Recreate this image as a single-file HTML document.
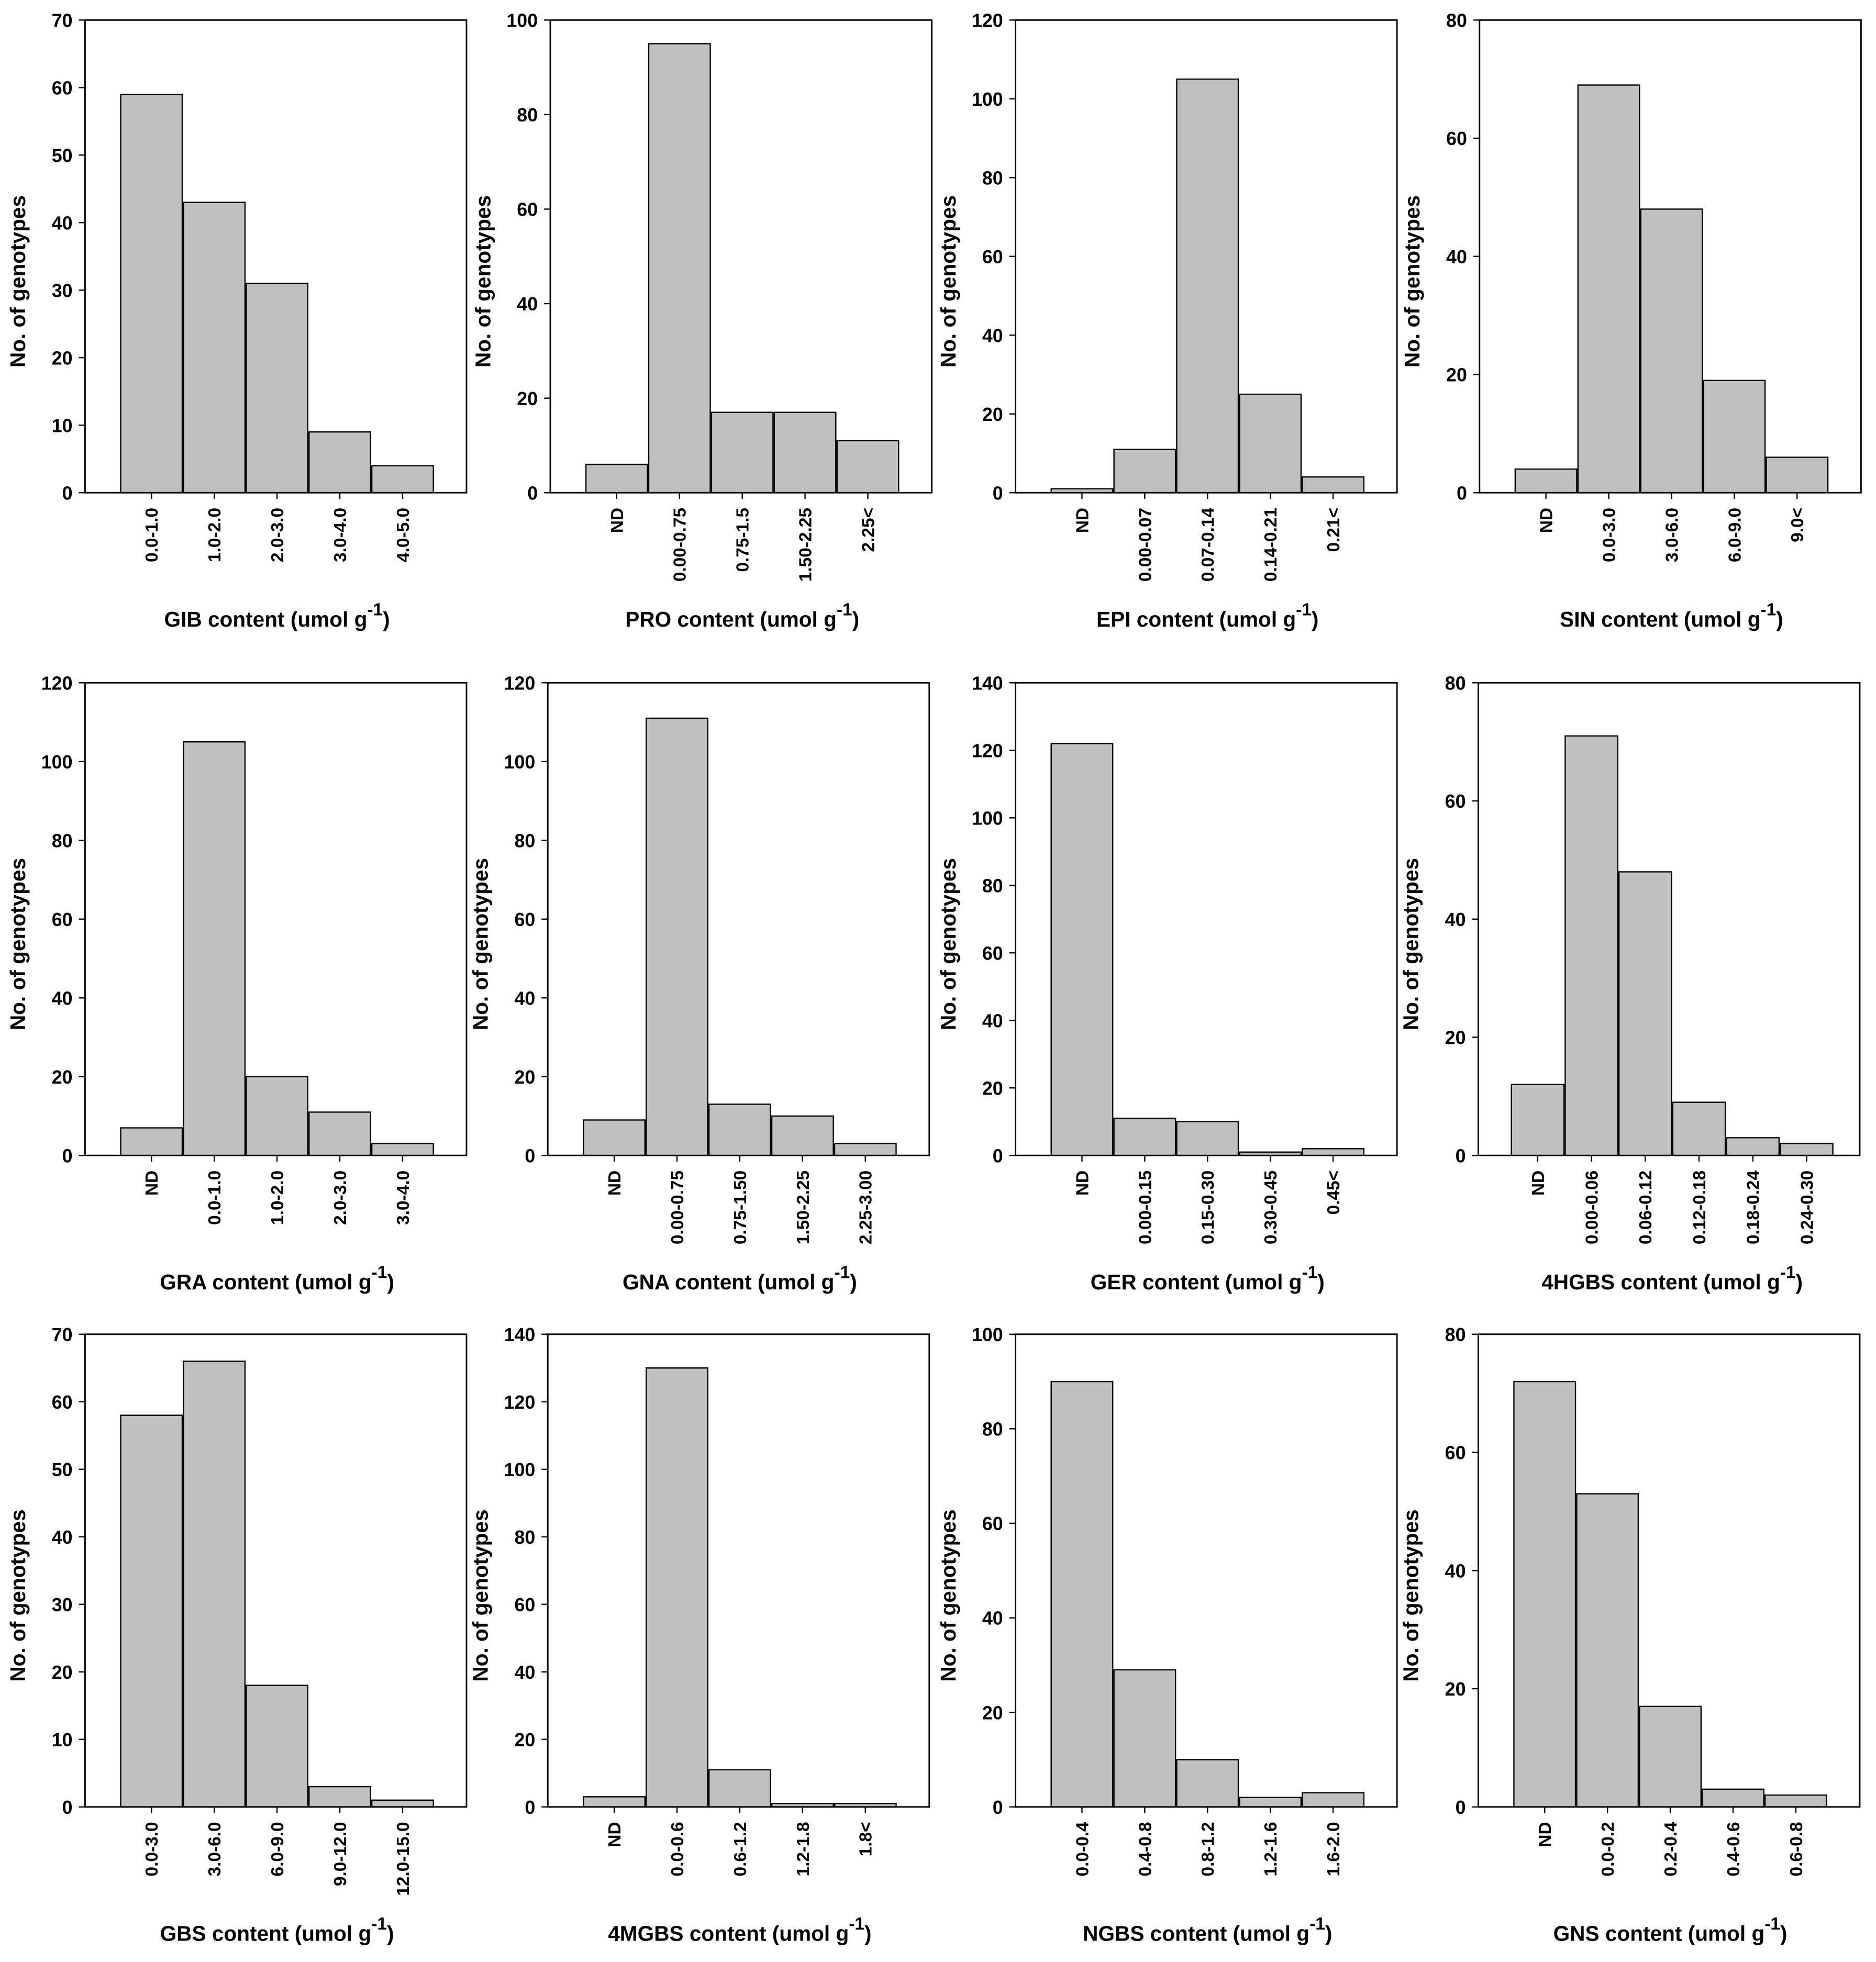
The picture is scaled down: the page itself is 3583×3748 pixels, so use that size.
<!DOCTYPE html>
<html><head><meta charset="utf-8">
<style>
html,body{margin:0;padding:0;background:#fff;}
svg{display:block;}
text{font-family:"Liberation Sans",Arial,sans-serif;fill:#000;}
</style></head>
<body>
<svg id="fig" xmlns="http://www.w3.org/2000/svg" width="3583" height="3748" viewBox="0 0 1500 1569"></svg>
<script>
// ---- data ----
const gibCats=["0.0-1.0","1.0-2.0","2.0-3.0","3.0-4.0","4.0-5.0"];
const gibVals=[59,43,31,9,4];
const proCats=["ND","0.00-0.75","0.75-1.5","1.50-2.25","2.25<"];
const proVals=[6,95,17,17,11];
const epiCats=["ND","0.00-0.07","0.07-0.14","0.14-0.21","0.21<"];
const epiVals=[1,11,105,25,4];
const sinCats=["ND","0.0-3.0","3.0-6.0","6.0-9.0","9.0<"];
const sinVals=[4,69,48,19,6];
const graCats=["ND","0.0-1.0","1.0-2.0","2.0-3.0","3.0-4.0"];
const graVals=[7,105,20,11,3];
const gnaCats=["ND","0.00-0.75","0.75-1.50","1.50-2.25","2.25-3.00"];
const gnaVals=[9,111,13,10,3];
const gerCats=["ND","0.00-0.15","0.15-0.30","0.30-0.45","0.45<"];
const gerVals=[122,11,10,1,2];
const hgbsCats=["ND","0.00-0.06","0.06-0.12","0.12-0.18","0.18-0.24","0.24-0.30"];
const hgbsVals=[12,71,48,9,3,2];
const gbsCats=["0.0-3.0","3.0-6.0","6.0-9.0","9.0-12.0","12.0-15.0"];
const gbsVals=[58,66,18,3,1];
const mgbsCats=["ND","0.0-0.6","0.6-1.2","1.2-1.8","1.8<"];
const mgbsVals=[3,130,11,1,1];
const ngbsCats=["0.0-0.4","0.4-0.8","0.8-1.2","1.2-1.6","1.6-2.0"];
const ngbsVals=[90,29,10,2,3];
const gnsCats=["ND","0.0-0.2","0.2-0.4","0.4-0.6","0.6-0.8"];
const gnsVals=[72,53,17,3,2];
const yTicks70=[0,10,20,30,40,50,60,70];
const yTicks100=[0,20,40,60,80,100];
const yTicks120=[0,20,40,60,80,100,120];
const yTicks80=[0,20,40,60,80];
const yTicks140=[0,20,40,60,80,100,120,140];

const NS="http://www.w3.org/2000/svg";
const svg=document.getElementById('fig');
function mk(tag,attrs,parent){const e=document.createElementNS(NS,tag);for(const k in attrs)e.setAttribute(k,attrs[k]);(parent||svg).appendChild(e);return e;}

const panels=[
 {id:"gib",label:"GIB",L:68,T:16,cats:gibCats,vals:gibVals,ticks:yTicks70},
 {id:"pro",label:"PRO",L:440,T:16,cats:proCats,vals:proVals,ticks:yTicks100},
 {id:"epi",label:"EPI",L:812,T:16,cats:epiCats,vals:epiVals,ticks:yTicks120},
 {id:"sin",label:"SIN",L:1183,T:16,cats:sinCats,vals:sinVals,ticks:yTicks80},
 {id:"gra",label:"GRA",L:68,T:546,cats:graCats,vals:graVals,ticks:yTicks120},
 {id:"gna",label:"GNA",L:438,T:546,cats:gnaCats,vals:gnaVals,ticks:yTicks120},
 {id:"ger",label:"GER",L:812,T:546,cats:gerCats,vals:gerVals,ticks:yTicks140},
 {id:"4hgbs",label:"4HGBS",L:1182,T:546,cats:hgbsCats,vals:hgbsVals,ticks:yTicks80},
 {id:"gbs",label:"GBS",L:68,T:1067,cats:gbsCats,vals:gbsVals,ticks:yTicks70},
 {id:"4mgbs",label:"4MGBS",L:438,T:1067,cats:mgbsCats,vals:mgbsVals,ticks:yTicks140},
 {id:"ngbs",label:"NGBS",L:812,T:1067,cats:ngbsCats,vals:ngbsVals,ticks:yTicks100},
 {id:"gns",label:"GNS",L:1182,T:1067,cats:gnsCats,vals:gnsVals,ticks:yTicks80}
];

panels.forEach(p=>{
  const W=305,H=378,B=p.T+H;
  const g=mk('g',{});
  
  
  const ymax=p.ticks[p.ticks.length-1];
  const y=v=>B-v/ymax*H;
  const n=p.cats.length;
  const off=n===6?26:28;
  const span=n===6?258:251;
  const bw=span/n;
  const x=i=>p.L+off+i*bw;
  p.vals.forEach((v,i)=>{
    const r=mk('rect',{x:x(i)+0.5,y:y(v),width:bw-1,height:B-y(v),fill:'#c0c0c0',stroke:'#000','stroke-width':1},g);
    
    
  });
  const f=mk('rect',{x:p.L,y:p.T,width:W,height:H,fill:'none',stroke:'#000','stroke-width':1.2},g);
  
  
  p.ticks.forEach(t=>{
    mk('line',{x1:p.L-5,x2:p.L,y1:y(t),y2:y(t),stroke:'#000','stroke-width':1},g);
    const tx=mk('text',{x:p.L-10,y:y(t)+5.5,'text-anchor':'end','font-size':15,'font-weight':'bold'},g);
    tx.textContent=t;
    
    
  });
  p.cats.forEach((c,i)=>{
    const cx=x(i)+bw/2;
    mk('line',{x1:cx,x2:cx,y1:B,y2:B+5,stroke:'#000','stroke-width':1},g);
    const tx=mk('text',{x:0,y:0,'text-anchor':'end','font-size':14,'font-weight':'bold',transform:`translate(${cx+5},${B+12}) rotate(-90)`},g);
    tx.textContent=c;
    
    
  });
  const yt=mk('text',{x:0,y:0,'text-anchor':'middle','font-size':17,'font-weight':'bold',transform:`translate(${p.L-48},${p.T+H/2+20}) rotate(-90)`},g);
  yt.textContent='No. of genotypes';
  
  
  const xt=mk('text',{x:p.L+off+span/2,y:B+107,'text-anchor':'middle','font-size':17,'font-weight':'bold'},g);
  
  
  const t1=mk('tspan',{},xt);t1.textContent=p.label+' content (umol g';
  const t2=mk('tspan',{dy:-9,'font-size':14},xt);t2.textContent='-1';
  const t3=mk('tspan',{dy:9},xt);t3.textContent=')';
});
</script>
</body></html>
